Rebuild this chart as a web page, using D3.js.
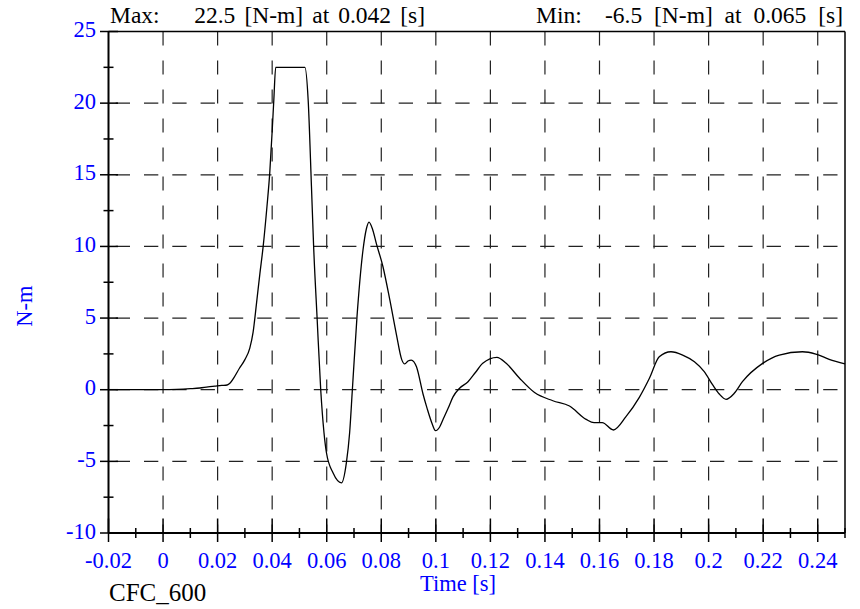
<!DOCTYPE html>
<html>
<head>
<meta charset="utf-8">
<script src="https://cdn.jsdelivr.net/npm/d3@7"></script>
<style>
  body { margin: 0; background: #fff; }
</style>
</head>
<body>
<svg id="chart" width="860" height="609"></svg>
<script>
// data
var timeVals = [-0.02, -0.01, 0.0, 0.005, 0.01, 0.0135, 0.0165, 0.019, 0.0215, 0.0235, 0.0245, 0.026, 0.028, 0.030, 0.0318, 0.033,
    0.0343, 0.0355, 0.0367, 0.0381, 0.0391, 0.0401, 0.0406, 0.0413, 0.052, 0.0532, 0.0544, 0.0552, 0.0565, 0.0578,
    0.059, 0.0599, 0.0623, 0.0654, 0.0672, 0.0684, 0.0694, 0.0711, 0.0733, 0.0745, 0.0755, 0.0768, 0.0782, 0.0806,
    0.0831, 0.0855, 0.0875, 0.0886, 0.0898, 0.091, 0.0929, 0.0953, 0.0968, 0.0985, 0.0999, 0.1014, 0.1026, 0.1045,
    0.1063, 0.1087, 0.1118, 0.1145, 0.1172, 0.1224, 0.1258, 0.1307, 0.1362, 0.1429, 0.149, 0.1551, 0.158, 0.161,
    0.1651, 0.1697, 0.1746, 0.1783, 0.1819, 0.1862, 0.1905, 0.1948, 0.1984, 0.2015, 0.2039, 0.2064, 0.2094, 0.2124,
    0.2198, 0.2259, 0.2344, 0.2393, 0.2442, 0.25];
var torqueVals = [0, 0, 0, 0.02, 0.07, 0.12, 0.2, 0.25, 0.3, 0.33, 0.45, 0.85, 1.5, 2.1, 2.9, 4.0,
    6.1, 8.1, 10.0, 12.8, 15.1, 18.4, 20.2, 22.5, 22.5, 20.2, 14.2, 10.0, 4.9, 0.0,
    -3.0, -4.4, -5.8, -6.5, -5.1, -3.0, 0.0, 5.1, 9.75, 11.2, 11.7, 11.2, 10.2, 8.6,
    6.3, 3.9, 2.1, 1.8, 2.0, 2.07, 1.6, -0.3, -1.3, -2.3, -2.86, -2.6, -2.1, -1.3,
    -0.5, 0.1, 0.56, 1.2, 1.84, 2.26, 1.84, 0.8, -0.2, -0.77, -1.14, -2.07, -2.3, -2.3,
    -2.81, -1.88, -0.53, 0.8, 2.3, 2.65, 2.42, 1.95, 1.26, 0.33, -0.3, -0.67, -0.25, 0.56,
    1.84, 2.42, 2.65, 2.49, 2.12, 1.8];

var xMajorTicks = [-0.02, 0, 0.02, 0.04, 0.06, 0.08, 0.1, 0.12, 0.14, 0.16, 0.18, 0.2, 0.22, 0.24];
var xMinorTicks = [-0.01, 0.01, 0.03, 0.05, 0.07, 0.09, 0.11, 0.13, 0.15, 0.17, 0.19, 0.21, 0.23, 0.25];
var yMajorTicks = [-10, -5, 0, 5, 10, 15, 20, 25];
var yMinorTicks = [-7.5, -2.5, 2.5, 7.5, 12.5, 17.5, 22.5];

var maxLabel = "22.5 [N-m] at 0.042 [s]";
var minLabel = "-6.5 [N-m] at 0.065 [s]";
var filterLabel = "CFC_600";
var xTitle = "Time [s]";
var yTitle = "N-m";

var serif = "Liberation Serif";
var svg = d3.select("#chart");
var plotL = 108.5, plotR = 845, plotT = 31.5, plotB = 533;

var x = d3.scaleLinear().domain([-0.02, 0.25]).range([plotL, plotR]);
var y = d3.scaleLinear().domain([-10, 25]).range([plotB, plotT]);

var blue = "#0000ff";

// dashed grid
svg.append("g").selectAll("line")
    .data(xMajorTicks.filter(function (d) { return d > -0.02; }))
    .enter().append("line")
    .attr("x1", function (d) { return x(d); }).attr("x2", function (d) { return x(d); })
    .attr("y1", plotT).attr("y2", plotB)
    .attr("stroke", "#222").attr("stroke-width", 1.2)
    .attr("stroke-dasharray", "14,15").attr("stroke-dashoffset", 0);

svg.append("g").selectAll("line")
    .data(yMajorTicks.filter(function (d) { return d > -10 && d < 25; }))
    .enter().append("line")
    .attr("x1", plotL).attr("x2", plotR)
    .attr("y1", function (d) { return y(d); }).attr("y2", function (d) { return y(d); })
    .attr("stroke", "#222").attr("stroke-width", 1.2)
    .attr("stroke-dasharray", "14.3,14").attr("stroke-dashoffset", 21.1);

// frame
svg.append("line").attr("x1", plotL).attr("x2", plotR).attr("y1", plotT).attr("y2", plotT)
    .attr("stroke", "#000").attr("stroke-width", 1.5);
svg.append("line").attr("x1", plotR).attr("x2", plotR).attr("y1", plotT).attr("y2", plotB)
    .attr("stroke", "#000").attr("stroke-width", 1.5);
svg.append("line").attr("x1", plotL).attr("x2", plotL).attr("y1", plotT).attr("y2", plotB)
    .attr("stroke", "#000").attr("stroke-width", 2);
svg.append("line").attr("x1", plotL).attr("x2", plotR).attr("y1", plotB).attr("y2", plotB)
    .attr("stroke", "#000").attr("stroke-width", 2);

// ticks (cross the axis line)
svg.append("g").selectAll("line").data(xMajorTicks).enter().append("line")
    .attr("x1", function (d) { return x(d); }).attr("x2", function (d) { return x(d); })
    .attr("y1", plotB - 14.5).attr("y2", plotB + 9)
    .attr("stroke", "#000").attr("stroke-width", 1.5);
svg.append("g").selectAll("line").data(xMinorTicks).enter().append("line")
    .attr("x1", function (d) { return x(d); }).attr("x2", function (d) { return x(d); })
    .attr("y1", plotB - 5).attr("y2", plotB + 5)
    .attr("stroke", "#000").attr("stroke-width", 1.5);
svg.append("g").selectAll("line").data(yMajorTicks).enter().append("line")
    .attr("x1", plotL - 8.5).attr("x2", plotL + 9.5)
    .attr("y1", function (d) { return y(d); }).attr("y2", function (d) { return y(d); })
    .attr("stroke", "#000").attr("stroke-width", 1.5);
svg.append("g").selectAll("line").data(yMinorTicks).enter().append("line")
    .attr("x1", plotL - 5).attr("x2", plotL + 5)
    .attr("y1", function (d) { return y(d); }).attr("y2", function (d) { return y(d); })
    .attr("stroke", "#000").attr("stroke-width", 1.5);

// tick labels, plain hyphen for negatives like the reference
function tickText(d) { return String(+d.toFixed(3)); }

svg.append("g").selectAll("text").data(xMajorTicks).enter().append("text")
    .attr("x", function (d) { return x(d); }).attr("y", 568)
    .attr("font-family", serif).attr("text-anchor", "middle").attr("fill", blue).attr("font-size", 22.5)
    .text(tickText);
svg.append("g").selectAll("text").data(yMajorTicks).enter().append("text")
    .attr("x", 96).attr("y", function (d) { return y(d) + 5.5; })
    .attr("font-family", serif).attr("text-anchor", "end").attr("fill", blue).attr("font-size", 22.5)
    .text(tickText);

// axis titles
svg.append("text").attr("x", 420).attr("y", 591).attr("font-family", serif)
    .attr("fill", blue).attr("font-size", 22.5).text(xTitle);
svg.append("text").attr("transform", "translate(32,306) rotate(-90)").attr("text-anchor", "middle")
    .attr("font-family", serif).attr("fill", blue).attr("font-size", 22.5).text(yTitle);

// header and footer
svg.append("text").attr("x", 110).attr("y", 22.5).attr("font-family", serif).attr("font-size", 23.5).text("Max:");
svg.append("text").attr("x", 425).attr("y", 22.5).attr("text-anchor", "end").attr("font-family", serif)
    .attr("font-size", 23.5).attr("word-spacing", 3.2).text(maxLabel);
svg.append("text").attr("x", 536).attr("y", 22.5).attr("font-family", serif).attr("font-size", 23.5).text("Min:");
svg.append("text").attr("x", 843).attr("y", 22.5).attr("text-anchor", "end").attr("font-family", serif)
    .attr("font-size", 23.5).attr("word-spacing", 6).text(minLabel);
svg.append("text").attr("x", 109).attr("y", 601).attr("font-family", serif).attr("font-size", 25).text(filterLabel);

// trace
var line = d3.line()
    .x(function (d) { return x(d[0]); })
    .y(function (d) { return y(d[1]); })
    .curve(d3.curveMonotoneX);

svg.append("path")
    .datum(d3.zip(timeVals, torqueVals))
    .attr("d", line)
    .attr("fill", "none")
    .attr("stroke", "#000")
    .attr("stroke-width", 1.3);
</script>
</body>
</html>
